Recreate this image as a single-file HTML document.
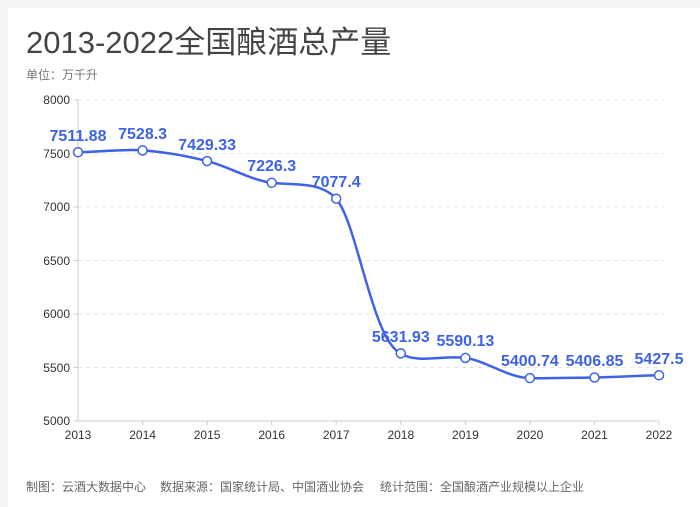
<!DOCTYPE html>
<html><head><meta charset="utf-8"><style>
body{margin:0;background:#f4f4f4;}
.card{position:absolute;left:8px;top:8px;width:692px;height:499px;background:#fff;}
svg{position:absolute;left:0;top:0}
</style></head><body>
<div class="card"></div>
<svg width="700" height="507" xmlns="http://www.w3.org/2000/svg" font-family="Liberation Sans, Noto Sans CJK SC, sans-serif">
<text x="26" y="53" font-size="31" fill="#444" font-family="Liberation Sans, Noto Sans CJK SC, sans-serif">2013-2022全国酿酒总产量</text>
<text x="26" y="79" font-size="12" fill="#777">单位：万千升</text>
<g stroke="#e4e4e4" stroke-dasharray="4,4" stroke-width="1">
<line x1="78" y1="100" x2="665" y2="100"/><line x1="78" y1="153.5" x2="665" y2="153.5"/>
<line x1="78" y1="207" x2="665" y2="207"/><line x1="78" y1="260.5" x2="665" y2="260.5"/>
<line x1="78" y1="314" x2="665" y2="314"/><line x1="78" y1="367.5" x2="665" y2="367.5"/>
</g>
<g stroke="#ccc" stroke-width="1">
<line x1="78" y1="100" x2="78" y2="421"/><line x1="74" y1="421" x2="659" y2="421"/>
<line x1="74" y1="100" x2="78" y2="100"/><line x1="74" y1="153.5" x2="78" y2="153.5"/><line x1="74" y1="207" x2="78" y2="207"/><line x1="74" y1="260.5" x2="78" y2="260.5"/><line x1="74" y1="314" x2="78" y2="314"/><line x1="74" y1="367.5" x2="78" y2="367.5"/>
<line x1="142.6" y1="421" x2="142.6" y2="425"/><line x1="207.1" y1="421" x2="207.1" y2="425"/><line x1="271.7" y1="421" x2="271.7" y2="425"/><line x1="336.2" y1="421" x2="336.2" y2="425"/><line x1="400.8" y1="421" x2="400.8" y2="425"/><line x1="465.4" y1="421" x2="465.4" y2="425"/><line x1="529.9" y1="421" x2="529.9" y2="425"/><line x1="594.5" y1="421" x2="594.5" y2="425"/><line x1="659" y1="421" x2="659" y2="425"/>
</g>
<g font-size="12" fill="#333" text-anchor="end">
<text x="70" y="104">8000</text><text x="70" y="158">7500</text><text x="70" y="211">7000</text><text x="70" y="265">6500</text><text x="70" y="318">6000</text><text x="70" y="372">5500</text><text x="70" y="425">5000</text>
</g>
<g font-size="12" fill="#333" text-anchor="middle">
<text x="78" y="439">2013</text><text x="142.6" y="439">2014</text><text x="207.1" y="439">2015</text><text x="271.7" y="439">2016</text><text x="336.2" y="439">2017</text><text x="400.8" y="439">2018</text><text x="465.4" y="439">2019</text><text x="529.9" y="439">2020</text><text x="594.5" y="439">2021</text><text x="659" y="439">2022</text>
</g>
<path d="M78,152.2 C99.5,151.9 121.1,148.9 142.6,150.4 C164.1,151.9 185.6,155.7 207.1,161.1 C228.6,166.5 250.2,180 271.7,182.8 C293.2,185.5 320,181 336.2,198.7 C358,225 372,340 400.8,353.4 C416,364 443.9,355 465.4,357.9 C486.9,361 508.4,378 529.9,378.1 C551.4,378.5 573,377.8 594.5,377.5 C616,377 637.5,375.6 659,375.3" fill="none" stroke="#3f63e6" stroke-width="2.5"/>
<g fill="#fff" stroke="#3f63e6" stroke-width="1.5">
<circle cx="78" cy="152.2" r="4.5"/><circle cx="142.6" cy="150.4" r="4.5"/><circle cx="207.1" cy="161.1" r="4.5"/><circle cx="271.7" cy="182.8" r="4.5"/><circle cx="336.2" cy="198.7" r="4.5"/><circle cx="400.8" cy="353.4" r="4.5"/><circle cx="465.4" cy="357.9" r="4.5"/><circle cx="529.9" cy="378.1" r="4.5"/><circle cx="594.5" cy="377.5" r="4.5"/><circle cx="659" cy="375.3" r="4.5"/>
</g>
<g font-size="16" font-weight="bold" fill="#3f63e6" text-anchor="middle">
<text x="78" y="141">7511.88</text><text x="142.6" y="139">7528.3</text><text x="207.1" y="150">7429.33</text><text x="271.7" y="171">7226.3</text><text x="336.2" y="187">7077.4</text><text x="400.8" y="342">5631.93</text><text x="465.4" y="346">5590.13</text><text x="529.9" y="366">5400.74</text><text x="594.5" y="366">5406.85</text><text x="659" y="364">5427.5</text>
</g>
<g font-size="12" fill="#666">
<text x="26" y="491">制图：云酒大数据中心</text>
<text x="160" y="491">数据来源：国家统计局、中国酒业协会</text>
<text x="380" y="491">统计范围：全国酿酒产业规模以上企业</text>
</g>
</svg>
</body></html>
